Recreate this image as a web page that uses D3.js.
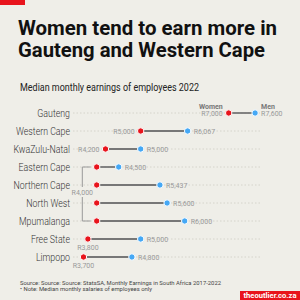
<!DOCTYPE html>
<html>
<head>
<meta charset="utf-8">
<script src="https://cdn.jsdelivr.net/npm/d3@7"></script>
<style>
  html, body { margin: 0; padding: 0; background: #efeee8; }
  svg { display: block; }
</style>
</head>
<body>
<div id="chart"></div>
<script>
// data
const provinces = ["Gauteng", "Western Cape", "KwaZulu-Natal", "Eastern Cape", "Northern Cape",
  "North West", "Mpumalanga", "Free State", "Limpopo"];
const women = [7000, 5000, 4200, 4000, 4000, 4000, 4000, 3800, 3700];
const men = [7600, 6067, 5000, 4500, 5437, 5600, 6000, 5000, 4800];
// how the women's label is placed: left of dot, grouped bracket, or below
const womenLabelPos = ["left", "left", "left", "group", "group", "group", "group", "below", "below"];

const width = 300, height = 300;
const red = "#e8141c", blue = "#45a8f5";
const font = "Roboto, sans-serif";
const fmt = v => "R" + d3.format(",")(v);

const svg = d3.select("#chart").append("svg")
  .attr("width", width)
  .attr("height", height);

svg.append("rect").attr("width", width).attr("height", height).attr("fill", "#efeee8");
svg.append("rect").attr("x", 0).attr("y", 0).attr("width", 25).attr("height", 5).attr("fill", red);

// title, squeezed to the condensed width of the original
[["Women tend to earn more in", 35, 259], ["Gauteng and Western Cape", 57, 247]].forEach(([t, yy, w]) => {
  svg.append("text")
    .attr("x", 18).attr("y", yy)
    .attr("font-family", font)
    .attr("font-weight", 700)
    .attr("font-size", 21)
    .attr("fill", "#111")
    .attr("textLength", w)
    .attr("lengthAdjust", "spacingAndGlyphs")
    .text(t);
});

svg.append("text")
  .attr("x", 20).attr("y", 91)
  .attr("font-family", font)
  .attr("font-size", 10.5)
  .attr("fill", "#222")
  .attr("textLength", 179)
  .attr("lengthAdjust", "spacingAndGlyphs")
  .text("Median monthly  earnings of employees 2022");

const x = d3.scaleLinear().domain([3000, 8000]).range([52.7, 272.7]);
const y = d3.scalePoint().domain(provinces).range([113, 257]);

const rows = provinces.map((p, i) => ({ p, w: women[i], m: men[i], pos: womenLabelPos[i] }));

// dotted guide lines
svg.selectAll("line.grid").data(rows).enter().append("line")
  .attr("class", "grid")
  .attr("x1", 73).attr("x2", 260)
  .attr("y1", d => y(d.p)).attr("y2", d => y(d.p))
  .attr("stroke", "#cfcdc4")
  .attr("stroke-width", 0.8)
  .attr("stroke-dasharray", "1.5,2");

// province labels (narrowed a bit, original font is condensed)
svg.selectAll("text.prov").data(rows).enter().append("text")
  .attr("class", "prov")
  .attr("x", 70)
  .attr("y", d => y(d.p) + 3.5)
  .attr("text-anchor", "end")
  .attr("font-family", font)
  .attr("font-weight", 300)
  .attr("font-size", 10)
  .attr("fill", "#333")
  .text(d => d.p)
  .each(function () {
    const len = this.getComputedTextLength();
    d3.select(this).attr("textLength", len * 0.88).attr("lengthAdjust", "spacingAndGlyphs");
  });

const valFont = s => s
  .attr("font-family", font)
  .attr("font-size", 7)
  .attr("fill", "#999");

// bracket for the R4,000 group
const grp = rows.filter(d => d.pos === "group");
const bx = 82.3;
const gTop = y(grp[0].p), gBot = y(grp[grp.length - 1].p);
const bracket = svg.append("g").attr("stroke", "#999").attr("stroke-width", 1).attr("fill", "none");
bracket.append("path").attr("d", `M${x(grp[0].w) - 6},${gTop} H${bx} V${gTop + 20}`);
bracket.append("path").attr("d", `M${bx},${gTop + 30} V${gBot} H${x(grp[0].w) - 6}`);
svg.append("text")
  .attr("x", bx).attr("y", gTop + 28)
  .attr("text-anchor", "middle")
  .call(valFont)
  .text(fmt(grp[0].w));

// connecting lines
svg.selectAll("line.conn").data(rows).enter().append("line")
  .attr("class", "conn")
  .attr("x1", d => x(d.w)).attr("x2", d => x(d.m))
  .attr("y1", d => y(d.p)).attr("y2", d => y(d.p))
  .attr("stroke", "#777")
  .attr("stroke-width", 1.8);

// dots
svg.selectAll("circle.w").data(rows).enter().append("circle")
  .attr("cx", d => x(d.w)).attr("cy", d => y(d.p)).attr("r", 3.2)
  .attr("fill", red).attr("stroke", "#fff").attr("stroke-width", 1);
svg.selectAll("circle.m").data(rows).enter().append("circle")
  .attr("cx", d => x(d.m)).attr("cy", d => y(d.p)).attr("r", 3.2)
  .attr("fill", blue).attr("stroke", "#fff").attr("stroke-width", 1);

// women value labels
svg.selectAll("text.wl").data(rows.filter(d => d.pos !== "group")).enter().append("text")
  .attr("class", "wl")
  .attr("x", d => d.pos === "left" ? x(d.w) - 6 : x(d.w))
  .attr("y", d => d.pos === "left" ? y(d.p) + 2.5 : y(d.p) + 10.5)
  .attr("text-anchor", d => d.pos === "left" ? "end" : "middle")
  .call(valFont)
  .text(d => fmt(d.w));

// men value labels
svg.selectAll("text.ml").data(rows).enter().append("text")
  .attr("class", "ml")
  .attr("x", d => x(d.m) + 6)
  .attr("y", d => y(d.p) + 2.5)
  .call(valFont)
  .text(d => fmt(d.m));

// series names above the first row
const first = rows[0];
svg.append("text")
  .attr("x", x(first.w) - 6).attr("y", y(first.p) - 4.5)
  .attr("text-anchor", "end")
  .attr("font-family", font)
  .attr("font-weight", 700).attr("font-size", 7).attr("fill", "#777")
  .text("Women");
svg.append("text")
  .attr("x", x(first.m) + 6).attr("y", y(first.p) - 4.5)
  .attr("font-family", font)
  .attr("font-weight", 700).attr("font-size", 7).attr("fill", "#777")
  .text("Men");

// footer
svg.append("text")
  .attr("x", 20).attr("y", 284.8)
  .attr("font-family", font).attr("font-size", 5.8).attr("fill", "#444")
  .attr("textLength", 201).attr("lengthAdjust", "spacingAndGlyphs")
  .text("Source: Source: Source: StatsSA, Monthly Earnings in South Africa 2017-2022");
svg.append("text")
  .attr("x", 20).attr("y", 291)
  .attr("font-family", font).attr("font-size", 5.8).attr("fill", "#444")
  .attr("textLength", 132).attr("lengthAdjust", "spacingAndGlyphs")
  .text("• Note: Median monthly salaries of employees only");

svg.append("rect").attr("x", 240).attr("y", 291).attr("width", 60).attr("height", 9).attr("fill", red);
svg.append("text")
  .attr("x", 270).attr("y", 298.3)
  .attr("text-anchor", "middle")
  .attr("font-family", font)
  .attr("font-weight", 700).attr("font-size", 7.5)
  .attr("fill", "#fff")
  .attr("textLength", 53).attr("lengthAdjust", "spacingAndGlyphs")
  .text("theoutlier.co.za");
</script>
</body>
</html>
